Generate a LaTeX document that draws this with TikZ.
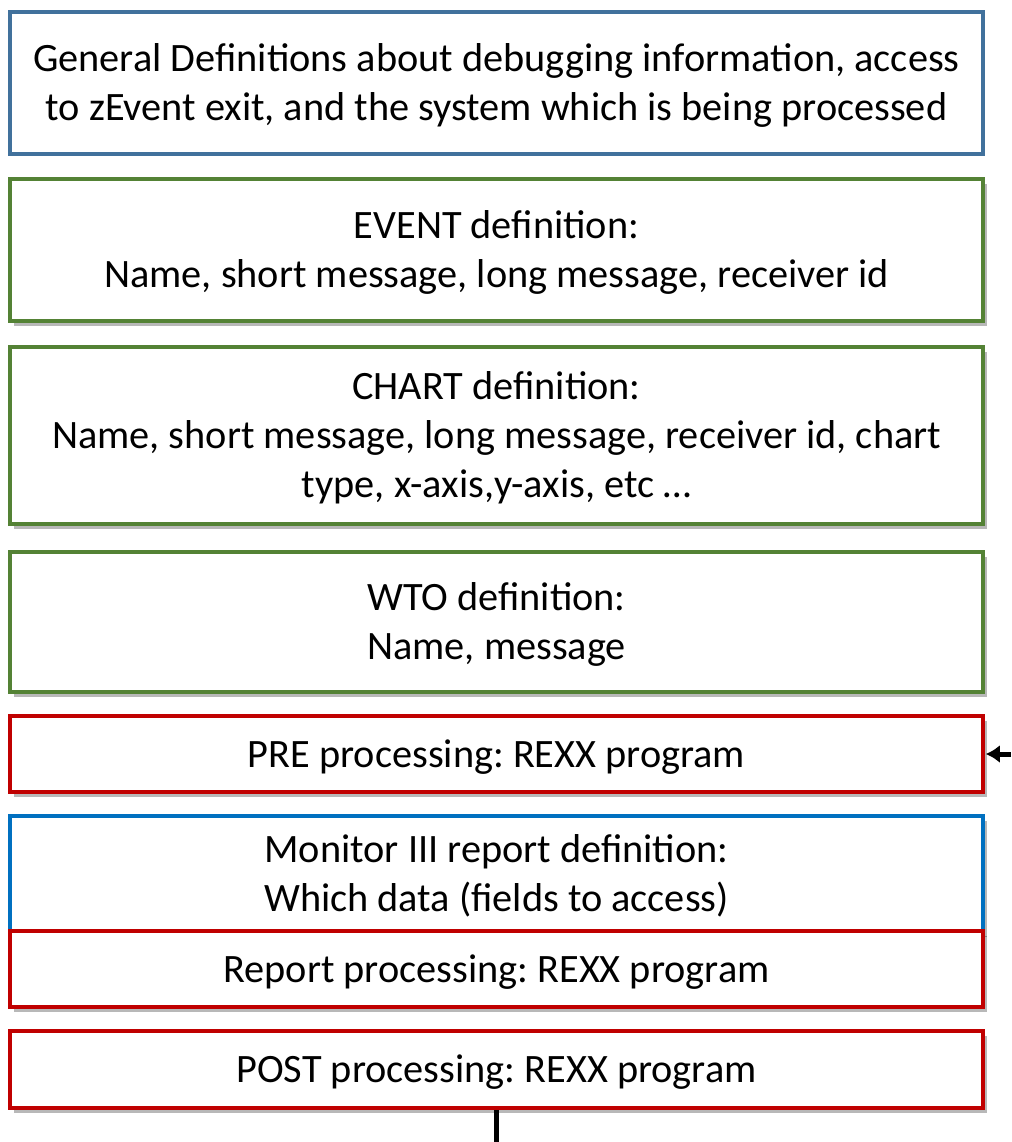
\documentclass[tikz,border=0pt]{standalone}
\usepackage{fontspec}
\setmainfont{Carlito}
\usetikzlibrary{shadows,arrows.meta}
\definecolor{steel}{HTML}{41719C}
\definecolor{grn}{HTML}{548235}
\definecolor{mblue}{HTML}{0070C0}
\definecolor{dred}{HTML}{C00000}
\frenchspacing
\newcommand\topS{\rule{0pt}{36pt}}
\newcommand\botS{\rule[-10pt]{0pt}{0pt}}
\tikzset{
  box/.style={rectangle, draw, line width=3.5pt, fill=white, minimum width=973pt,
    align=center, inner sep=0pt, font=\fontsize{40.3}{49}\selectfont\frenchspacing},
  shad/.style={drop shadow={shadow xshift=4pt, shadow yshift=-5pt, fill=black, opacity=0.28}},
  conn/.style={line width=5.5pt, black}
}
\begin{document}
\begin{tikzpicture}[x=1pt,y=-1pt]
\useasboundingbox (0,0) rectangle (1011,1142);
\node[box, draw=steel, minimum height=142pt] (n1) at (496.5,83)
  {\topS General Definitions about debugging information, access\\to zEvent exit, and the system which is being processed\botS};
\node[box, shad, draw=grn, minimum height=142pt] (n2) at (496.5,250)
  {\topS EVENT definition:\\Name, short message, long message, receiver id\botS};
\node[box, shad, draw=grn, minimum height=177pt] (n3) at (496.5,435.5)
  {\topS CHART definition:\\Name, short message, long message, receiver id, chart\\type, x-axis,y-axis, etc …\botS};
\node[box, shad, draw=grn, minimum height=140pt] (n4) at (496.5,622)
  {\topS WTO definition:\\Name, message\botS};
\node[box, shad, draw=dred, minimum height=76pt] (n5) at (496.5,754)
  {\topS PRE processing: REXX program\botS};
\node[box, shad, draw=mblue, minimum height=116pt] (n6) at (496.5,874)
  {\topS Monitor III report definition:\\Which data (fields to access)\botS};
\node[box, shad, draw=dred, minimum height=76pt] (n7) at (496.5,969)
  {\topS Report processing: REXX program\botS};
\node[box, shad, draw=dred, minimum height=77pt] (n8) at (496.5,1069.5)
  {\topS POST processing: REXX program\botS};
\coordinate (inR) at (1011,754);
\coordinate (outB) at (496.5,1142);
\draw[line width=5pt, black, -{Latex[length=14pt,width=18pt]}] (inR) -- ([xshift=1pt]n5.east);
\draw[conn] (n8.south) -- (outB);
\end{tikzpicture}
\end{document}
